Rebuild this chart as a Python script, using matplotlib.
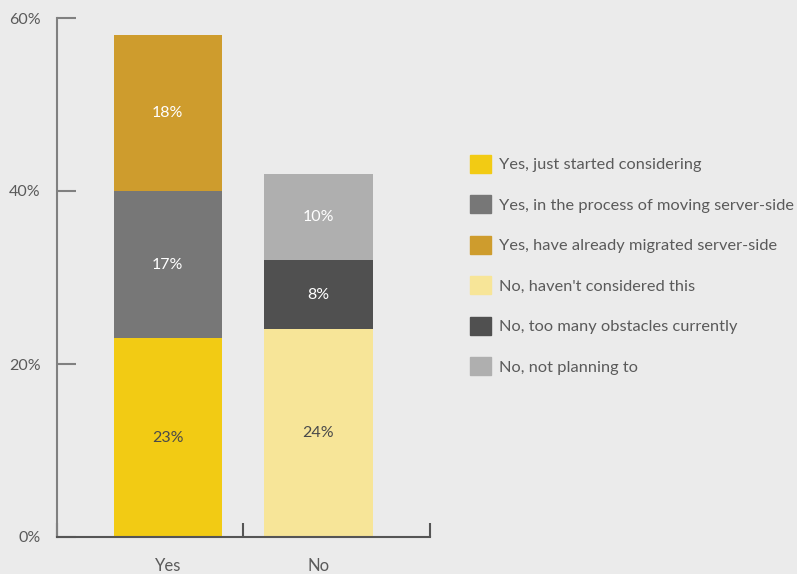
import numpy as np
import matplotlib
matplotlib.use("Agg")
import matplotlib.pyplot as plt
from matplotlib.patches import Patch

plt.rcParams['font.family'] = ['Lato', 'DejaVu Sans']

groups = ['Yes', 'No']
yes_labels = ['Yes, just started considering',
              'Yes, in the process of moving server-side',
              'Yes, have already migrated server-side']
no_labels = ["No, haven't considered this",
             'No, too many obstacles currently',
             'No, not planning to']
yes_values = [23, 17, 18]
no_values = [24, 8, 10]
yes_colors = ['#F2CB14', '#777777', '#CE9C2D']
no_colors = ['#F7E598', '#505050', '#AFAFAF']
# label colour inside each segment (dark on the yellows)
yes_text = ['#4A4A4A', 'white', 'white']
no_text = ['#4A4A4A', 'white', 'white']

bg = '#EBEBEB'
txt = '#5A5A5A'

fig = plt.figure(figsize=(7.97, 5.74), dpi=100, facecolor=bg)
ax = fig.add_axes([57 / 797, 37 / 574, 373 / 797, 519 / 574], facecolor=bg)

w = 0.72
for x, vals, cols, tcols in [(0, yes_values, yes_colors, yes_text),
                             (1, no_values, no_colors, no_text)]:
    bottom = 0
    for v, c, tc in zip(vals, cols, tcols):
        ax.bar(x, v, w, bottom=bottom, color=c, linewidth=0)
        ax.text(x, bottom + v / 2, f'{v}%', ha='center', va='center',
                color=tc, fontsize=11.5)
        bottom += v

ax.set_xlim(-0.735, 1.74)
ax.set_ylim(0, 60)

ax.set_yticks([0, 20, 40, 60])
ax.set_yticklabels(['0%', '20%', '40%', '60%'])
ax.tick_params(axis='y', direction='in', length=14, width=1.5, color='#808080',
               labelcolor=txt, labelsize=11.5, pad=12)

ax.set_xticks([0, 1])
ax.set_xticklabels(groups)
ax.set_xticks([-0.735, 0.5, 1.74], minor=True)
ax.tick_params(axis='x', which='major', length=0, labelcolor=txt,
               labelsize=12, pad=15)
ax.tick_params(axis='x', which='minor', direction='in', length=10, width=1.5,
               color='#555555')

for s in ['top', 'right']:
    ax.spines[s].set_visible(False)
ax.spines['left'].set_color('#808080')
ax.spines['left'].set_linewidth(1.5)
ax.spines['bottom'].set_color('#555555')
ax.spines['bottom'].set_linewidth(1.5)

handles = [Patch(color=c) for c in yes_colors + no_colors]
fig.legend(handles, yes_labels + no_labels, loc='upper left',
           bbox_to_anchor=(455 / 797, 1 - 140 / 574), frameon=False,
           fontsize=11.8, labelcolor=txt, handlelength=1.3, handleheight=1.3,
           handletextpad=0.5, labelspacing=1.38)

fig.savefig('out.png', dpi=100, facecolor=bg)
